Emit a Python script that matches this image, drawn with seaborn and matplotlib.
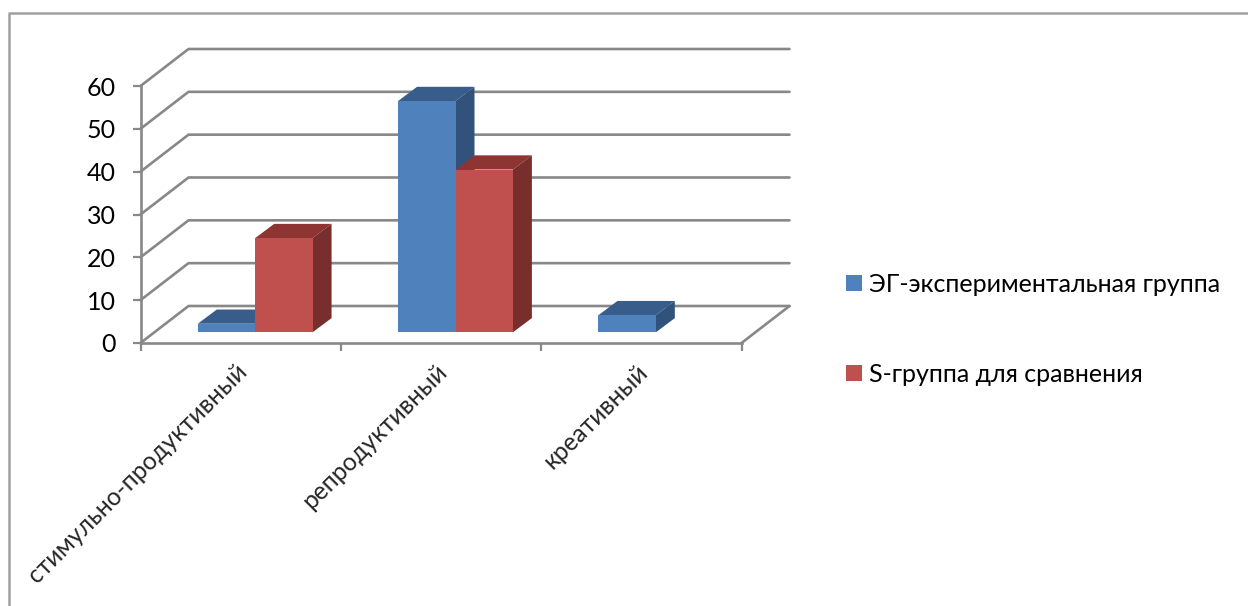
import matplotlib
matplotlib.use("Agg")
import matplotlib.pyplot as plt
import pandas as pd
import seaborn as sns
from matplotlib.lines import Line2D
from matplotlib.patches import Polygon, Rectangle

categories = ["стимульно-продуктивный", "репродуктивный", "креативный"]
experimental = [2, 54, 4]
comparison = [22, 38, 0]
series_names = ["ЭГ-экспериментальная группа", "S-группа для сравнения"]
y_ticks = [0, 10, 20, 30, 40, 50, 60]

W, H = 1248, 606
GREY = "#888888"
FRONT_COLORS = ["#4F81BD", "#C0504D"]
TOP_COLORS = ["#385D8A", "#8E3533"]
SIDE_COLORS = ["#31527A", "#772E2C"]

sns.set_theme(style="white")
plt.rcParams["font.family"] = ["Lato", "Open Sans", "DejaVu Sans"]


def rect_px(left, right, top, bottom):
    """Axes rectangle in figure fractions from pixel edges."""
    return [left / W, 1 - bottom / H, (right - left) / W, (bottom - top) / H]


fig = plt.figure(figsize=(W / 100, H / 100), dpi=100, facecolor="white")

# Outer chart border, open at the bottom of the canvas
fig.add_artist(Line2D([8.5 / W, 8.5 / W, 1], [0, 1 - 12.5 / H, 1 - 12.5 / H],
                      transform=fig.transFigure, color="#A0A0A0", lw=1.8))

# Front plane: carries the value axis, category ticks and the wall lines
front = fig.add_axes(rect_px(140.5, 741.5, 86, 343), facecolor="none")
front.set_xlim(0, 3)
front.set_ylim(0, 60)
for side in ("top", "right"):
    front.spines[side].set_visible(False)
for side in ("left", "bottom"):
    front.spines[side].set_color(GREY)
    front.spines[side].set_linewidth(1.9)
front.set_yticks(y_ticks)
front.set_xticks(range(4))
front.set_xticklabels([])
front.tick_params(axis="both", which="major", length=6, width=1.6, color=GREY,
                  direction="out", bottom=True, left=True)
front.tick_params(axis="y", labelsize=18, pad=12, colors="black")
front.tick_params(axis="y", color=GREY)
# Rotated labels end slightly left of each category centre
front.set_xticks([0.47, 1.47, 2.47], minor=True)
front.set_xticklabels(categories, minor=True, rotation=45, ha="right",
                      va="top", rotation_mode="anchor", fontsize=17.7)
front.tick_params(axis="x", which="minor", length=0, pad=12)

# Depth of the floor, in category widths and value units
wall_dx = 48 / 200.33
wall_dy = 37 / 4.283
for value in y_ticks:
    front.plot([0, wall_dx, 3 + wall_dx], [value, value + wall_dy, value + wall_dy],
               color=GREY, lw=1.9, clip_on=False, zorder=1)
front.plot([3, 3 + wall_dx], [0, wall_dy], color=GREY, lw=1.9, clip_on=False, zorder=1)

# Bars stand on a plane set back from the front axis
bars_ax = fig.add_axes(rect_px(155, 756, 75.3, 332.3), facecolor="none")
table = pd.DataFrame({
    "category": categories * 2,
    "group": [series_names[0]] * 3 + [series_names[1]] * 3,
    "value": experimental + comparison,
})
sns.barplot(data=table, x="category", y="value", hue="group", hue_order=series_names,
            palette=FRONT_COLORS, width=0.573, gap=0, saturation=1, legend=False,
            linewidth=0, edgecolor="none", ax=bars_ax)
bars_ax.set_xlim(-0.5, 2.5)
bars_ax.set_ylim(0, 60)
bars_ax.axis("off")

# Extrude every bar into a box
bar_dx = 19 / 200.33
bar_dy = 14.2 / 4.283
for series, container in enumerate(bars_ax.containers):
    for bar in container:
        height = bar.get_height()
        if height <= 0:
            continue
        x0, x1 = bar.get_x(), bar.get_x() + bar.get_width()
        order = 3 + series
        bar.set_zorder(order + 0.2)
        bars_ax.add_patch(Polygon(
            [(x0, height), (x1, height), (x1 + bar_dx, height + bar_dy), (x0 + bar_dx, height + bar_dy)],
            facecolor=TOP_COLORS[series], edgecolor="none", zorder=order, clip_on=False))
        bars_ax.add_patch(Polygon(
            [(x1, 0), (x1 + bar_dx, bar_dy), (x1 + bar_dx, height + bar_dy), (x1, height)],
            facecolor=SIDE_COLORS[series], edgecolor="none", zorder=order, clip_on=False))

# Legend squares and labels
handles = [Rectangle((0, 0), 1, 1, facecolor=c, edgecolor="none") for c in FRONT_COLORS]
fig.legend(handles, series_names, loc="upper left",
           bbox_to_anchor=(846 / W, 1 - 273 / H), frameon=False, fontsize=18,
           handlelength=0.64, handleheight=0.64, handletextpad=0.28,
           labelspacing=2.67, borderpad=0, borderaxespad=0, labelcolor="black")

fig.savefig("out.png", dpi=100)
